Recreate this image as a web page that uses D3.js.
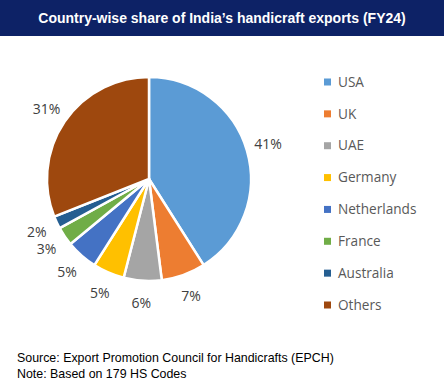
<!DOCTYPE html>
<html>
<head>
<meta charset="utf-8">
<script src="https://cdn.jsdelivr.net/npm/d3@7"></script>
<style>
  body { margin: 0; background: #fff; }
  svg { display: block; }
</style>
</head>
<body>
<svg width="444" height="388"></svg>
<script>
const countries = ["USA", "UK", "UAE", "Germany", "Netherlands", "France", "Australia", "Others"];
const shares = [41, 7, 6, 5, 5, 3, 2, 31];
const colors = ["#5b9bd5", "#ed7d31", "#a5a5a5", "#ffc000", "#4472c4", "#70ad47", "#255e91", "#9e480e"];
const notes = ["Source: Export Promotion Council for Handicrafts (EPCH)", "Note: Based on 179 HS Codes"];

const svg = d3.select("svg");
const width = 444;

// title bar
svg.append("rect")
  .attr("x", 0).attr("y", 0)
  .attr("width", width).attr("height", 36)
  .attr("fill", "#0d2266");
svg.append("text")
  .attr("x", width / 2).attr("y", 23)
  .attr("text-anchor", "middle")
  .attr("fill", "#fff")
  .style("font-family", "'Liberation Sans', Arial, sans-serif")
  .style("font-weight", "bold")
  .style("font-size", "14px")
  .text("Country-wise share of India\u2019s handicraft exports (FY24)");

const data = countries.map((c, i) => ({ name: c, value: shares[i], color: colors[i] }));
const cx = 149, cy = 179, r = 102, labelR = 124;

const pie = d3.pie().value(d => d.value).sort(null);
const arc = d3.arc().innerRadius(0).outerRadius(r);
const labelArc = d3.arc().innerRadius(labelR).outerRadius(labelR);

const g = svg.append("g").attr("transform", `translate(${cx},${cy})`);
const arcs = pie(data);

g.selectAll("path")
  .data(arcs)
  .enter()
  .append("path")
  .attr("d", arc)
  .attr("fill", d => d.data.color)
  .attr("stroke", "#fff")
  .attr("stroke-width", 2.5)
  .attr("stroke-linejoin", "round");

g.selectAll(".lbl")
  .data(arcs)
  .enter()
  .append("text")
  .attr("class", "lbl")
  .attr("transform", d => `translate(${labelArc.centroid(d)})`)
  .attr("text-anchor", "middle")
  .attr("dy", "0.35em")
  .attr("fill", "#404040")
  .style("font-family", "'Open Sans', sans-serif")
  .style("font-size", "14px")
  .text(d => d.data.value + "%");

// legend
const legendY = d3.scalePoint()
  .domain(countries)
  .range([82, 305]);

const legend = svg.append("g");
legend.selectAll("rect")
  .data(data)
  .enter()
  .append("rect")
  .attr("x", 324)
  .attr("y", d => legendY(d.name) - 3.5)
  .attr("width", 7)
  .attr("height", 7)
  .attr("fill", d => d.color);
legend.selectAll("text")
  .data(data)
  .enter()
  .append("text")
  .attr("x", 338)
  .attr("y", d => legendY(d.name))
  .attr("dy", "0.35em")
  .attr("fill", "#595959")
  .style("font-family", "'Open Sans', sans-serif")
  .style("font-size", "13.6px")
  .text(d => d.name);

// footer
svg.selectAll(".note")
  .data(notes)
  .enter()
  .append("text")
  .attr("class", "note")
  .attr("x", 17)
  .attr("y", (d, i) => 362 + i * 16)
  .attr("fill", "#000")
  .style("font-family", "'Liberation Sans', Arial, sans-serif")
  .style("font-size", "12.4px")
  .text(d => d);
</script>
</body>
</html>
